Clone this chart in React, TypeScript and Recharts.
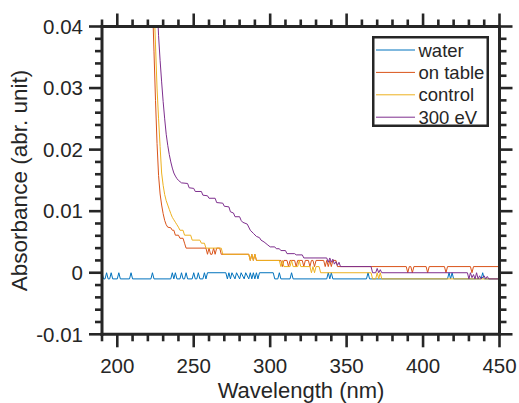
import React from 'react';
import { LineChart, Line, XAxis, YAxis } from 'recharts';

// ---------- data (wavelength nm, absorbance) ----------
const waterPts: [number, number][] = [
  [190, 0], [191, -0.001], [192, -0.001], [193, 0], [194, -0.001], [195, -0.001], [196, 0], [197, -0.001],
  [200, -0.001], [201, 0], [202, -0.001], [208, -0.001], [209, 0], [210, -0.001], [222, -0.001], [223, 0],
  [224, -0.001], [235, -0.001], [236, 0], [237, -0.001], [238, 0], [239, -0.001], [241, -0.001], [242, 0],
  [243, -0.001], [244, -0.001], [245, 0], [246, -0.001], [249, -0.001], [250, 0], [251, -0.001], [252, -0.001],
  [253, 0], [254, -0.001], [256, -0.001], [257, 0], [258, -0.001], [259, 0], [271, 0], [272, -0.001], [273, 0],
  [274, -0.001], [275, 0], [277, -0.001], [278, 0], [280, -0.001], [281, 0], [283, -0.001], [284, 0],
  [286, -0.001], [287, 0], [288, -0.001], [289, 0], [290, -0.001], [291, 0], [292, -0.001], [293, 0],
  [302, 0], [303, -0.001], [305, -0.001], [306, 0], [307, -0.001], [313, -0.001], [314, 0], [315, -0.001],
  [337, -0.001], [338, 0], [339, -0.001], [340, 0], [341, -0.001], [363, -0.001], [364, 0], [365, -0.001],
  [416, -0.001], [417, 0], [418, -0.001], [419, 0], [420, -0.001], [438, -0.001], [439, 0], [440, -0.001],
  [450, -0.001],
];

const onTablePts: [number, number][] = [
  [220, 0.075], [221, 0.063], [222, 0.053], [223, 0.044], [224, 0.036], [225, 0.028], [226, 0.021],
  [227, 0.0158], [228, 0.0128], [229, 0.011], [230, 0.0096], [231, 0.0085], [232, 0.0078], [233, 0.0074],
  [235, 0.0073], [236, 0.0069], [237, 0.0069], [238, 0.0061], [240, 0.0061], [241, 0.0056], [243, 0.0056],
  [244, 0.0048], [245, 0.004], [258, 0.004], [259, 0.003], [260, 0.004], [261, 0.003], [262, 0.003],
  [263, 0.004], [264, 0.003], [265, 0.004], [267, 0.004], [268, 0.003], [286, 0.003], [287, 0.002],
  [288, 0.003], [289, 0.002], [290, 0.003], [291, 0.002], [307, 0.002], [308, 0.001], [309, 0.002],
  [311, 0.002], [312, 0.001], [313, 0.002], [316, 0.002], [317, 0.001], [318, 0.002], [321, 0.002],
  [322, 0.001], [323, 0.002], [325, 0.002], [326, 0.001], [327, 0.002], [328, 0.002], [329, 0.001],
  [330, 0.002], [335, 0.002], [336, 0.001], [337, 0.002], [338, 0.001], [339, 0.002], [340, 0.001],
  [341, 0.002], [343, 0.002], [344, 0.001], [389, 0.001], [390, 0], [391, 0.001], [392, 0.001], [393, 0],
  [394, 0.001], [402, 0.001], [403, 0], [404, 0.001], [414, 0.001], [415, 0], [416, 0.001], [431, 0.001],
  [432, 0], [433, 0.001], [450, 0.001],
];

const controlPts: [number, number][] = [
  [222, 0.07], [223, 0.055], [224, 0.044], [225, 0.037], [226, 0.03], [227, 0.025], [228, 0.0205],
  [229, 0.0162], [230, 0.0142], [231, 0.0127], [232, 0.0117], [233, 0.011], [234, 0.0103], [235, 0.0096],
  [236, 0.009], [237, 0.0086], [238, 0.0082], [239, 0.0078], [240, 0.0074], [241, 0.0069], [243, 0.0069],
  [244, 0.0061], [248, 0.0061], [249, 0.0053], [254, 0.0053], [255, 0.0048], [257, 0.0048], [258, 0.004],
  [268, 0.004], [269, 0.003], [286, 0.003], [287, 0.002], [288, 0.003], [289, 0.002], [290, 0.003],
  [291, 0.002], [306, 0.002], [307, 0.001], [308, 0.002], [309, 0.001], [313, 0.001], [314, 0.002],
  [315, 0.001], [318, 0.001], [319, 0.002], [320, 0.001], [326, 0.001], [327, 0], [328, 0.001], [329, 0],
  [330, 0.001], [332, 0.001], [333, 0], [366, 0], [367, -0.001], [369, -0.001], [370, 0], [371, -0.001],
  [372, 0], [373, -0.001], [450, -0.001],
];

const ev300Pts: [number, number][] = [
  [224, 0.065], [225, 0.052], [226, 0.044], [227, 0.0385], [228, 0.0345], [229, 0.031], [230, 0.0278],
  [231, 0.025], [232, 0.0225], [233, 0.0207], [234, 0.0192], [235, 0.018], [236, 0.017], [237, 0.0162],
  [238, 0.0157], [239, 0.0153], [240, 0.015], [242, 0.0146], [246, 0.0145], [247, 0.0138], [250, 0.0137],
  [251, 0.0132], [255, 0.0132], [256, 0.0126], [259, 0.0125], [260, 0.0121], [264, 0.0121], [265, 0.0114],
  [269, 0.0113], [270, 0.0108], [273, 0.0107], [274, 0.0099], [276, 0.0097], [277, 0.0091], [280, 0.0091],
  [281, 0.0085], [282, 0.0082], [285, 0.0079], [287, 0.0069], [289, 0.0064], [291, 0.0059], [293, 0.0057],
  [294, 0.0053], [296, 0.005], [298, 0.0046], [300, 0.0042], [303, 0.0042], [304, 0.0039], [306, 0.0039],
  [307, 0.0036], [310, 0.0036], [311, 0.0031], [316, 0.0031], [317, 0.0029], [321, 0.0029], [322, 0.0024],
  [337, 0.0024], [338, 0.0017], [339, 0.0024], [340, 0.0017], [341, 0.0022], [342, 0.0014], [343, 0.0018],
  [344, 0.0012], [345, 0.0017], [346, 0.001], [366, 0.001], [367, 0], [369, 0], [370, 0.0007], [371, 0],
  [372, 0.0005], [373, 0], [429, 0], [430, -0.001], [431, 0], [432, -0.0008], [433, -0.0003], [434, -0.001],
  [435, 0], [436, -0.001], [437, -0.0005], [438, -0.001], [440, -0.0005], [441, -0.001], [442, -0.0006],
  [443, -0.001], [450, -0.001],
];

const seriesNames = ['water', 'on table', 'control', '300 eV'];
const seriesColors = ['#0072BD', '#D95319', '#EDB120', '#7E2F8E'];
const seriesPts = [waterPts, onTablePts, controlPts, ev300Pts];

const xTicks = [190, 200, 210, 220, 230, 240, 250, 260, 270, 280, 290, 300, 310, 320, 330, 340, 350, 360, 370, 380, 390, 400, 410, 420, 430, 440, 450];
const xTickLabels = [200, 250, 300, 350, 400, 450];
const yTicks = [-0.01, -0.008, -0.006, -0.004, -0.002, 0, 0.002, 0.004, 0.006, 0.008, 0.01, 0.012, 0.014, 0.016, 0.018, 0.02, 0.022, 0.024, 0.026, 0.028, 0.03, 0.032, 0.034, 0.036, 0.038, 0.04];
const yTickLabels = ['-0.01', '0', '0.01', '0.02', '0.03', '0.04'];

// ---------- styling ----------
const AX = '#262626';
const FONT = '"Liberation Sans", Arial, Helvetica, sans-serif';
const MAJ = 13;
const MIN = 7;
const TW = 2.6;

const isXMajor = (v: number) => xTickLabels.includes(v);
const yLabelFor = (v: number) => {
  const idx = yTickLabels.findIndex((s) => Math.abs(parseFloat(s) - v) < 1e-9);
  return idx >= 0 ? yTickLabels[idx] : null;
};

const BottomTick = (p: any) => {
  const { x, y, payload } = p;
  const v = payload.value;
  const major = isXMajor(v);
  return (
    <g>
      <line x1={x} x2={x} y1={y} y2={y + (major ? MAJ : MIN)} stroke={AX} strokeWidth={TW} />
      {major && (
        <text x={x} y={y + 39} textAnchor="middle" fontSize={20.5} fill={AX} fontFamily={FONT}>
          {v}
        </text>
      )}
    </g>
  );
};

const TopTick = (p: any) => {
  const { x, y, payload } = p;
  const major = isXMajor(payload.value);
  return <line x1={x} x2={x} y1={y} y2={y - (major ? MAJ : MIN)} stroke={AX} strokeWidth={TW} />;
};

const LeftTick = (p: any) => {
  const { x, y, payload } = p;
  const lab = yLabelFor(payload.value);
  return (
    <g>
      <line x1={x - (lab ? MAJ : MIN)} x2={x} y1={y} y2={y} stroke={AX} strokeWidth={TW} />
      {lab && (
        <text x={x - 19} y={y + 7.2} textAnchor="end" fontSize={20.5} fill={AX} fontFamily={FONT}>
          {lab}
        </text>
      )}
    </g>
  );
};

const RightTick = (p: any) => {
  const { x, y, payload } = p;
  const lab = yLabelFor(payload.value);
  return <line x1={x} x2={x + (lab ? MAJ : MIN)} y1={y} y2={y} stroke={AX} strokeWidth={TW} />;
};

const axisLineStyle = { stroke: AX, strokeWidth: 3, strokeLinecap: 'square' as const };

export default function App() {
  return (
    <div style={{ position: 'absolute', left: 0, top: 0, width: 519, height: 403, background: '#fff' }}>
      <LineChart width={519} height={403} margin={{ top: 25.5, right: 18.5, bottom: 67.7, left: 101 }}>
        <XAxis
          xAxisId="b"
          type="number"
          dataKey="x"
          domain={[190, 450]}
          allowDataOverflow
          ticks={xTicks}
          interval={0}
          height={1}
          tickSize={0}
          tickMargin={0}
          tickLine={false}
          axisLine={axisLineStyle}
          tick={(p: any) => <BottomTick {...p} />}
        />
        <XAxis
          xAxisId="t"
          orientation="top"
          type="number"
          dataKey="x"
          domain={[190, 450]}
          allowDataOverflow
          ticks={xTicks}
          interval={0}
          height={1}
          tickSize={0}
          tickMargin={0}
          tickLine={false}
          axisLine={axisLineStyle}
          tick={(p: any) => <TopTick {...p} />}
        />
        <YAxis
          yAxisId="l"
          type="number"
          domain={[-0.01, 0.04]}
          allowDataOverflow
          ticks={yTicks}
          interval={0}
          width={1}
          tickSize={0}
          tickMargin={0}
          tickLine={false}
          axisLine={axisLineStyle}
          tick={(p: any) => <LeftTick {...p} />}
        />
        <YAxis
          yAxisId="r"
          orientation="right"
          type="number"
          domain={[-0.01, 0.04]}
          allowDataOverflow
          ticks={yTicks}
          interval={0}
          width={1}
          tickSize={0}
          tickMargin={0}
          tickLine={false}
          axisLine={axisLineStyle}
          tick={(p: any) => <RightTick {...p} />}
        />
        {seriesPts.map((pts, i) => (
          <Line
            key={seriesNames[i]}
            name={seriesNames[i]}
            data={pts.map(([x, y]) => ({ x, y }))}
            dataKey="y"
            xAxisId="b"
            yAxisId="l"
            type="linear"
            stroke={seriesColors[i]}
            strokeWidth={1}
            dot={false}
            activeDot={false}
            isAnimationActive={false}
          />
        ))}
      </LineChart>
      <svg
        width={519}
        height={403}
        style={{ position: 'absolute', left: 0, top: 0, pointerEvents: 'none' }}
      >
        <text x={301} y={397.5} textAnchor="middle" fontSize={22} fill={AX} fontFamily={FONT}>
          Wavelength (nm)
        </text>
        <text
          x={27}
          y={180.5}
          transform="rotate(-90 27 180.5)"
          textAnchor="middle"
          fontSize={22.5}
          fill={AX}
          fontFamily={FONT}
        >
          Absorbance (abr. unit)
        </text>
        <g transform="translate(372 36)">
          <rect x={1.25} y={1.25} width={114.5} height={88.5} fill="#fff" stroke={AX} strokeWidth={2.5} />
          {seriesNames.map((n, i) => {
            const cy = 14 + i * 22.4;
            return (
              <g key={n}>
                <line x1={4} x2={43} y1={cy} y2={cy} stroke={seriesColors[i]} strokeWidth={1} />
                <text x={46.5} y={cy + 6.5} fontSize={18.5} fill={AX} fontFamily={FONT}>
                  {n}
                </text>
              </g>
            );
          })}
        </g>
      </svg>
    </div>
  );
}
